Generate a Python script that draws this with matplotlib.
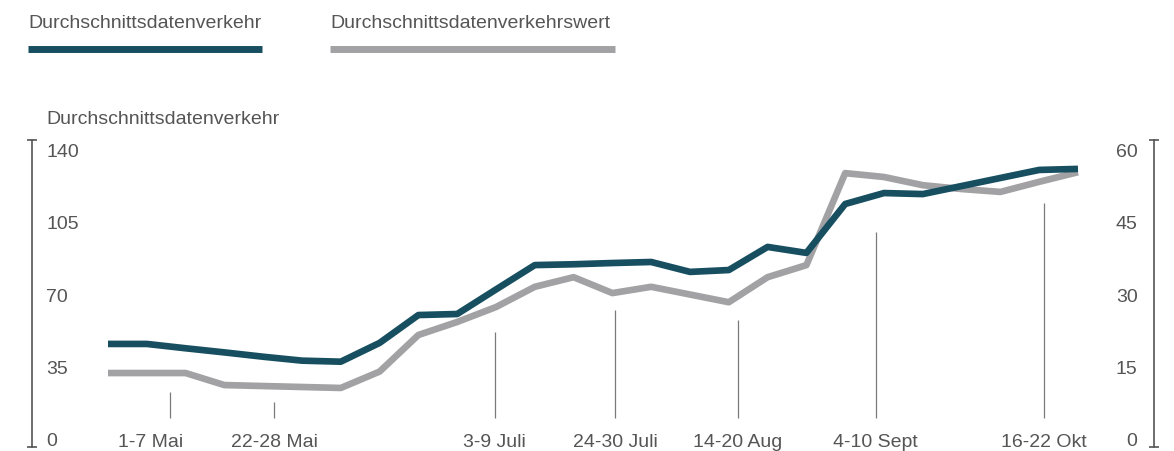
import numpy as np
import matplotlib
matplotlib.use("Agg")
import matplotlib.pyplot as plt
from matplotlib.lines import Line2D

# weekly values, May to October
weeks = np.arange(26)
traffic = [46.3, 46.3, 44.2, 42.2, 40.1, 38.2, 37.7, 46.8, 60.3, 60.8, 72.7, 84.5, 84.9,
           85.5, 86.0, 81.2, 82.1, 93.3, 90.4, 114.1, 119.4, 118.9, 122.8, 126.7, 130.6, 131.1]
traffic_value = [13.8, 13.8, 13.8, 11.3, 11.1, 10.9, 10.7, 14.1, 21.7, 24.4, 27.5, 31.7, 33.7,
                 30.4, 31.7, 30.1, 28.5, 33.7, 36.2, 55.3, 54.5, 52.8, 52.0, 51.4, 53.5, 55.5]

week_labels = ["1-7 Mai", "22-28 Mai", "3-9 Juli", "24-30 Juli", "14-20 Aug", "4-10 Sept", "16-22 Okt"]
label_pos = [1.11, 4.28, 9.97, 13.07, 16.24, 19.79, 24.12]
marker_pos = [1.60, 4.28, 9.97, 13.07, 16.24, 19.79, 24.12]
marker_top = [23.0, 18.2, 52.1, 62.7, 57.9, 100.5, 114.6]
left_ticks = [0, 35, 70, 105, 140]
right_ticks = [0, 15, 30, 45, 60]

dark = "#174f61"
grey = "#a2a2a5"
text_col = "#555555"
plt.rcParams['font.family'] = ['Liberation Sans', 'DejaVu Sans']

W, H = 1174, 451
fig = plt.figure(figsize=(W / 100, H / 100), dpi=100)
ax = fig.add_axes([32.3 / W, 1 - 447 / H, (1153.5 - 32.3) / W, (447 - 140) / H])
ax2 = ax.twinx()
ax.set_zorder(ax2.get_zorder() + 1)
ax.patch.set_visible(False)

ax2.plot(weeks, traffic_value, color=grey, lw=4.8, solid_joinstyle='round', solid_capstyle='butt')
ax.plot(weeks, traffic, color=dark, lw=4.8, solid_joinstyle='round', solid_capstyle='butt')

ax.set_xlim(-1.951, 26.946)
ax.set_ylim(-3.63, 145.1)
ax2.set_ylim(-1.557, 62.18)

# leader lines above the week labels
ax.vlines(marker_pos, 10.4, marker_top, color="#7a7a7a", lw=0.9)
for p, lbl in zip(label_pos, week_labels):
    ax.text(p, 0, lbl, transform=ax.get_xaxis_transform(), ha='center', va='baseline',
            fontsize=14, color=text_col)

ax.set_xticks([])
for s in ['top', 'bottom']:
    ax.spines[s].set_visible(False)
for s in ['left', 'right']:
    ax.spines[s].set_color(text_col)
    ax.spines[s].set_linewidth(1.2)
for s in ax2.spines.values():
    s.set_visible(False)
ax.plot([0, 0, 1, 1], [0, 1, 0, 1], ls='none', marker='_', ms=7, mew=1.2, color=text_col,
        transform=ax.transAxes, clip_on=False)

ax.set_yticks(left_ticks)
ax.tick_params(axis='y', length=0, pad=-(46 - 32.3) * 0.72, labelsize=14, labelcolor=text_col)
for t in ax.get_yticklabels():
    t.set_horizontalalignment('left')
ax2.set_yticks(right_ticks)
ax2.tick_params(axis='y', length=0, pad=-(1153.5 - 1137.5) * 0.72, labelsize=14, labelcolor=text_col)
for t in ax2.get_yticklabels():
    t.set_horizontalalignment('right')

# axis title
fig.text(46 / W, 1 - 124 / H, "Durchschnittsdatenverkehr", fontsize=14, color=text_col, va='baseline')

# legend: text over a thick bar
for x0, x1, name, col in [(28, 262, "Durchschnittsdatenverkehr", dark),
                          (330, 615, "Durchschnittsdatenverkehrswert", grey)]:
    fig.text(x0 / W, 1 - 28 / H, name, fontsize=14, color=text_col, va='baseline')
    fig.add_artist(Line2D([x0 / W, x1 / W], [1 - 49 / H, 1 - 49 / H], color=col, lw=5,
                          solid_capstyle='butt', transform=fig.transFigure))

fig.savefig("out.png", dpi=100)
